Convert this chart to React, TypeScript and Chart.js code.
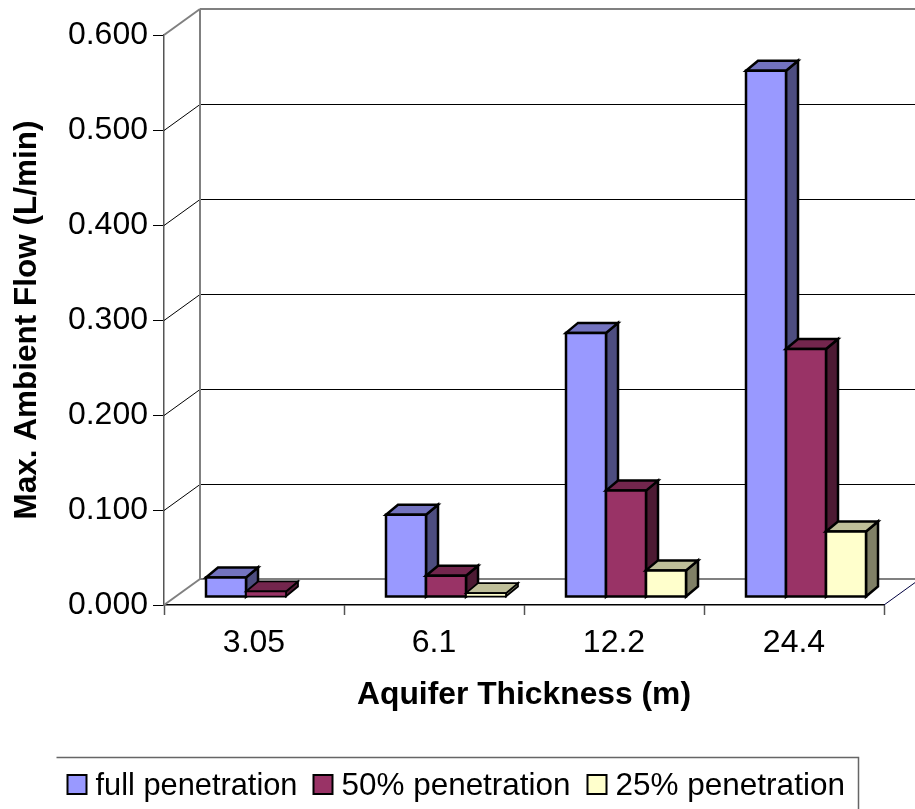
import React, { useEffect, useRef } from "react";
import { Chart, registerables } from "chart.js";

Chart.register(...registerables);

const categories = ["3.05", "6.1", "12.2", "24.4"];
const fullPenetration = [0.0206, 0.0866, 0.278, 0.554];
const halfPenetration = [0.0058, 0.0224, 0.112, 0.261];
const quarterPenetration = [null, 0.004, 0.028, 0.069];
const seriesNames = ["full penetration", "50% penetration", "25% penetration"];
const frontColors = ["#9999FF", "#993366", "#FFFFCC"];
const topColors = ["#7373BF", "#73264D", "#BFBF99"];
const sideColors = ["#4D4D80", "#4D1A33", "#808066"];

const FONT = "'Liberation Sans', Arial, sans-serif";

// Projection of the 3D box: how far the back wall and the bars sit from the front plane.
const WALL_DX = 36;
const WALL_DY = -26;
const BAR_DX = 12;
const BAR_DY = -8;
const DEPTH_DX = 12;
const DEPTH_DY = -10;

// Legend layout: marker positions and the width each label is set to.
const LEGEND_MARKER_X = [67.5, 313.5, 587.5];
const LEGEND_TEXT_W = [202, 229, 230];

function poly(ctx: CanvasRenderingContext2D, pts: number[][], fill: string | null, stroke: string, lw: number) {
  ctx.beginPath();
  pts.forEach(([x, y], i) => (i ? ctx.lineTo(x, y) : ctx.moveTo(x, y)));
  if (fill) {
    ctx.closePath();
    ctx.fillStyle = fill;
    ctx.fill();
  }
  ctx.strokeStyle = stroke;
  ctx.lineWidth = lw;
  ctx.stroke();
}

const wallPlugin = {
  id: "wall3d",
  beforeDatasetsDraw(chart: any) {
    const { ctx, chartArea, scales } = chart;
    const y = scales.y;
    const { left, right, bottom } = chartArea;
    ctx.save();
    for (const tick of y.ticks) {
      const py = y.getPixelForValue(tick.value);
      const edge = tick.value === 0 || tick.value === 0.6;
      const color = edge ? "#808080" : "#000000";
      const lw = edge ? 2 : 1;
      const snap = edge ? 0 : 0.5;
      poly(ctx, [[left, py + snap], [left + WALL_DX, py + WALL_DY + snap]], null, color, lw);
      poly(ctx, [[left + WALL_DX, py + WALL_DY + snap], [chart.width + 2, py + WALL_DY + snap]], null, color, lw);
    }
    poly(ctx, [[left + WALL_DX, y.getPixelForValue(0.6) + WALL_DY], [left + WALL_DX, bottom + WALL_DY]], null, "#808080", 2);
    poly(ctx, [[right, bottom], [right + WALL_DX, bottom + WALL_DY]], null, "#000040", 1);
    ctx.restore();

    // Bars go left to right so each one covers the side of its neighbour.
    ctx.save();
    ctx.lineJoin = "miter";
    chart.data.datasets.forEach((_: any, di: number) => {
      const meta = chart.getDatasetMeta(di);
      meta.data.forEach((bar: any, i: number) => {
        if (chart.data.datasets[di].data[i] == null) return;
        const x0 = bar.x - bar.width / 2 + BAR_DX;
        const x1 = bar.x + bar.width / 2 + BAR_DX;
        const t = bar.y + BAR_DY;
        const b = bar.base + BAR_DY;
        // Very short bars get a lighter outline so their faces stay visible.
        const lw = b - t < 8 ? 1.75 : 2.5;
        poly(ctx, [[x1, t], [x1 + DEPTH_DX, t + DEPTH_DY], [x1 + DEPTH_DX, b + DEPTH_DY], [x1, b]], sideColors[di], "#000000", lw);
        poly(ctx, [[x0, t], [x0 + DEPTH_DX, t + DEPTH_DY], [x1 + DEPTH_DX, t + DEPTH_DY], [x1, t]], topColors[di], "#000000", lw);
        poly(ctx, [[x0, t], [x1, t], [x1, b], [x0, b]], frontColors[di], "#000000", lw);
      });
    });
    ctx.restore();
    return false;
  },
};

const legendPlugin = {
  id: "boxedLegend",
  afterDraw(chart: any) {
    const { ctx } = chart;
    const top = 757.5;
    const boxLeft = 56.5;
    const boxRight = 858.5;
    const marker = 19;
    const midY = 784.5;
    ctx.save();
    ctx.font = `31.5px ${FONT}`;
    ctx.textBaseline = "middle";
    chart.data.datasets.forEach((ds: any, i: number) => {
      const x = LEGEND_MARKER_X[i];
      poly(ctx, [[x, midY - marker / 2], [x + marker, midY - marker / 2], [x + marker, midY + marker / 2], [x, midY + marker / 2]], frontColors[i], "#000000", 2);
      ctx.fillStyle = "#000000";
      ctx.fillText(ds.label, x + 28, midY + 2, LEGEND_TEXT_W[i]);
    });
    poly(ctx, [[boxLeft, top], [boxRight, top], [boxRight, 812], [boxLeft, 812]], null, "#666666", 1.5);
    ctx.restore();
  },
};

export default function App() {
  const ref = useRef<HTMLCanvasElement>(null);
  useEffect(() => {
    const series = [fullPenetration, halfPenetration, quarterPenetration];
    const chart = new Chart(ref.current!, {
      type: "bar",
      data: {
        labels: categories,
        datasets: series.map((data, i) => ({
          label: seriesNames[i],
          data,
          backgroundColor: frontColors[i],
          borderColor: "#000000",
          categoryPercentage: 120 / 180,
          barPercentage: 1,
        })),
      },
      plugins: [wallPlugin, legendPlugin],
      options: {
        animation: false,
        responsive: false,
        devicePixelRatio: 1,
        layout: { padding: { top: 35, right: 31, bottom: 52, left: 0 } },
        plugins: { legend: { display: false }, tooltip: { enabled: false } },
        scales: {
          x: {
            grid: { drawOnChartArea: false, tickLength: 10, color: "#555555", tickWidth: 1.5 },
            border: { color: "#000000", width: 1.5 },
            ticks: { color: "#000000", font: { family: FONT, size: 32 }, padding: 9, maxRotation: 0 },
            title: { display: true, text: "Aquifer Thickness (m)", color: "#000000", font: { family: FONT, size: 31.8, weight: "bold" }, padding: { top: 0, bottom: 43 } },
            afterFit(scale: any) {
              scale.height = 152;
            },
          },
          y: {
            min: 0,
            max: 0.6,
            grid: { drawOnChartArea: false, tickLength: 11, color: "#000000", tickWidth: 1 },
            border: { color: "#555555", width: 1.5 },
            ticks: { stepSize: 0.1, color: "#000000", font: { family: FONT, size: 32 }, padding: 5, callback: (v: any) => Number(v).toFixed(3) },
            title: { display: true, text: "Max. Ambient Flow (L/min)", color: "#000000", font: { family: FONT, size: 31.5, weight: "bold" }, padding: { top: 8, bottom: 0 } },
            afterFit(scale: any) {
              scale.width = 164;
            },
          },
        },
      },
    } as any);
    return () => chart.destroy();
  }, []);
  return (
    <div style={{ position: "fixed", left: 0, top: 0, width: 915, height: 809, background: "#fff", overflow: "hidden" }}>
      <canvas ref={ref} width={915} height={809} style={{ display: "block" }} />
    </div>
  );
}
